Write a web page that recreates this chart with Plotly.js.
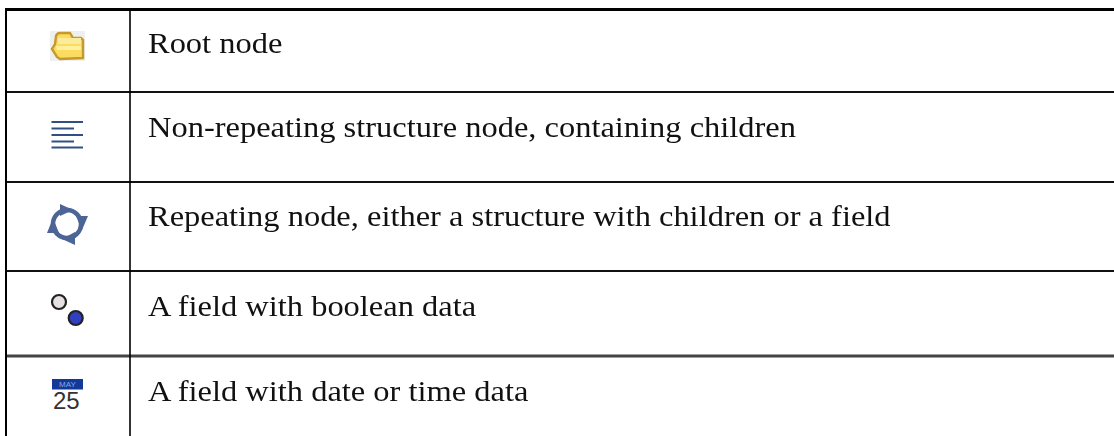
<!DOCTYPE html>
<html><head><meta charset="utf-8">
<script src="https://cdn.plot.ly/plotly-3.0.1.min.js"></script>
<style>html,body{margin:0;padding:0;background:#fff}#c{width:1114px;height:436px}
.shapelayer,.scatterlayer .trace:nth-last-child(-n+6){filter:blur(.6px)}
.textpoint{transform:translate(0,8.5px) scaleX(1.12);transform-origin:148px 0;filter:blur(.25px)}
</style>
</head><body><div id="c"></div>
<script>
const rowLabels = [
  "Root node",
  "Non-repeating structure node, containing children",
  "Repeating node, either a structure with children or a field",
  "A field with boolean data",
  "A field with date or time data"
];
const rowTextY = [44.5, 129, 218, 308, 392.5];
const ruleY = [9.5, 92, 182, 271, 356];
const ruleW = [3, 2, 2, 2, 3];
const ruleC = ['#000','#111','#111','#111','#444'];
const colX = [6, 130];
const textX = 148;

const serif = "Liberation Serif, serif";
const traces = [];
ruleY.forEach((y,i)=>traces.push({x:[colX[0],1114],y:[y,y],mode:'lines',line:{color:ruleC[i],width:ruleW[i]},hoverinfo:'skip'}));
colX.forEach((x,i)=>traces.push({x:[x,x],y:[8,436],mode:'lines',line:{color:'#000',width:i?1.6:2},hoverinfo:'skip'}));
traces.push({x:rowLabels.map(()=>textX),y:rowTextY,text:rowLabels,mode:'text',textposition:'middle right',
  textfont:{family:serif,size:29,color:'#111'},hoverinfo:'skip'});
// list icon
[[122,83],[128.5,74],[135,83],[141.5,74],[147.5,83]].forEach(p=>traces.push({x:[51.5,p[1]],y:[p[0],p[0]],mode:'lines',line:{color:'#2f5080',width:2},hoverinfo:'skip'}));
// boolean icon
traces.push({x:[59,75.7],y:[302,318],mode:'markers',marker:{size:14,color:['#e6e0e0','#3040c0'],line:{color:'#222',width:2.2}},hoverinfo:'skip'});

const ringC=[67,224], R=14, ink='#4d6596';
const shapes=[
 {type:'rect',x0:50,x1:85,y0:31,y1:61,fillcolor:'#efefef',line:{width:0},layer:'below'},
 {type:'path',path:'M55 44 L56 36 Q57 33 60 33 L70 33 L73 38 L81 38 L83 40 L83 58 L60 59 L57 57 L52 49 Z',fillcolor:'#fbdc60',line:{color:'#c49a2c',width:2.4}},
 {type:'rect',x0:58,x1:81,y0:38,y1:44,fillcolor:'#fbeb9a',line:{width:0}},
 {type:'path',path:'M56 46 L81 46 L81 50 L57 50 Z',fillcolor:'#fff09a',line:{width:0}},
 {type:'circle',x0:ringC[0]-R,x1:ringC[0]+R,y0:ringC[1]-R,y1:ringC[1]+R,line:{color:ink,width:4.5}},
 {type:'path',path:'M60 204 L60 216 L73 210 Z',fillcolor:ink,line:{width:0}},
 {type:'path',path:'M76 216 L88 216 L82 230 Z',fillcolor:ink,line:{width:0}},
 {type:'path',path:'M75 232 L75 245 L62 239 Z',fillcolor:ink,line:{width:0}},
 {type:'path',path:'M47 233 L59 233 L53 218 Z',fillcolor:ink,line:{width:0}},
 {type:'rect',x0:52,x1:83,y0:379,y1:389.5,fillcolor:'#12399a',line:{width:0}}
];
const annotations=[
 {x:67,y:384,text:'MAY',showarrow:false,font:{family:'Liberation Sans',size:8,color:'#8fa4d8'}},
 {x:66.5,y:400,text:'25',showarrow:false,font:{family:'Liberation Sans',size:24,color:'#333'}}
];
Plotly.newPlot('c',traces,{
  width:1114,height:436,margin:{l:0,r:0,t:0,b:0},showlegend:false,
  paper_bgcolor:'#fff',plot_bgcolor:'#fff',
  xaxis:{range:[0,1114],visible:false,fixedrange:true},
  yaxis:{range:[436,0],visible:false,fixedrange:true},
  shapes,annotations
},{displayModeBar:false,staticPlot:true});
</script></body></html>
